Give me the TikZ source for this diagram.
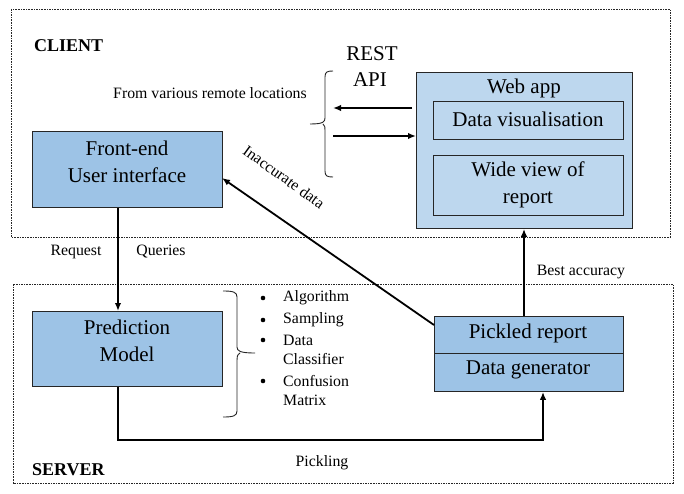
\documentclass[tikz,border=0pt]{standalone}
\usepackage{fontspec}
\setmainfont{Liberation Serif}
\usetikzlibrary{arrows.meta}
\definecolor{boxblue}{HTML}{9DC3E6}
\definecolor{lightblue}{HTML}{BDD7EE}
\begin{document}
\begin{tikzpicture}[x=1pt,y=-1pt,
  zone/.style={draw=black!85,line width=0.7pt,dash pattern=on 1.6pt off 1pt},
  bluebox/.style={draw=black!85,line width=0.9pt,fill=boxblue},
  webbox/.style={draw=black!85,line width=0.9pt,fill=lightblue},
  bigtxt/.style={font=\fontsize{21}{27}\selectfont,align=center,inner sep=0pt},
  smalltxt/.style={font=\fontsize{15.8}{19}\selectfont,inner sep=0pt},
  headtxt/.style={font=\fontsize{18}{22}\selectfont\bfseries,inner sep=0pt,anchor=west},
  conn/.style={line width=1.8pt,line cap=butt},
  arr/.style={conn,-{Latex[length=8pt,width=6.5pt]}},
  bracestyle/.style={line width=0.9pt,black!85}
]
\useasboundingbox (0,0) rectangle (684,494);
\fill[white] (0,0) rectangle (684,494);

% zones
\draw[zone] (11,9) rectangle (670,237);
\draw[zone] (13,284) rectangle (673,483);
\node[headtxt] (client) at (34,46) {CLIENT};
\node[headtxt] (server) at (32,470) {SERVER};

% front-end
\node[bluebox,minimum width=190pt,minimum height=76pt,inner sep=0pt,anchor=north west] (fe) at (32,131) {};
\node[bigtxt] (fetxt) at (127,162) {Front-end\\User interface};

% prediction model
\node[bluebox,minimum width=190pt,minimum height=75pt,inner sep=0pt,anchor=north west] (pm) at (32,311) {};
\node[bigtxt] (pmtxt) at (127,341) {Prediction\\Model};

% web app
\node[webbox,minimum width=216pt,minimum height=156pt,inner sep=0pt,anchor=north west] (web) at (416,72) {};
\node[bigtxt] (webtxt) at (524,88) {Web app};
\node[webbox,minimum width=190pt,minimum height=38pt,inner sep=0pt,anchor=north west] (dv) at (433,101) {};
\node[bigtxt] (dvtxt) at (528,119) {Data visualisation};
\node[webbox,minimum width=190pt,minimum height=60pt,inner sep=0pt,anchor=north west] (wv) at (433,155) {};
\node[bigtxt] (wvtxt) at (528,185) {Wide view of\\report};

% pickled report / data generator
\node[bluebox,minimum width=189pt,minimum height=75pt,inner sep=0pt,anchor=north west] (pk) at (434,316) {};
\draw[black!85,line width=0.9pt] (pk.west |- 0,353) -- (pk.east |- 0,353);
\node[bigtxt] (pktxt) at (528,333) {Pickled report};
\node[bigtxt] (dgtxt) at (528,370) {Data generator};

% REST API
\node[bigtxt] (rest) at (372,54) {REST};
\node[bigtxt] (api) at (370,80) {API};
\node[smalltxt] (remote) at (210,93) {From various remote locations};

% left brace
\draw[bracestyle] (333,71) .. controls (327,71) and (325,72) .. (325,77) -- (325,118)
  .. controls (325,122) and (323,124) .. (310,124)
  (323,124) .. controls (325,126) and (325,127) .. (325,130) -- (325,171)
  .. controls (325,176) and (327,177) .. (333,177);

% right brace
\draw[bracestyle] (223,291) .. controls (233,291) and (237,292) .. (237,297) -- (237,347)
  .. controls (237,351) and (240,353) .. (255,353)
  (240,353) .. controls (237,355) and (237,357) .. (237,360) -- (237,411)
  .. controls (237,416) and (233,417) .. (223,417);

% bullets
\foreach \yy/\nm in {298/b1,320/b2,340/b3,381/b4}{
  \fill (263,\yy) circle (2.3pt);
}
\node[smalltxt,anchor=west] (l1) at (283,298) {Algorithm};
\node[smalltxt,anchor=west] (l2) at (283,320) {Sampling};
\node[smalltxt,anchor=west] (l3) at (283,340) {Data};
\node[smalltxt,anchor=west] (l4) at (283,359) {Classifier};
\node[smalltxt,anchor=west] (l5) at (283,381) {Confusion};
\node[smalltxt,anchor=west] (l6) at (283,400) {Matrix};

% labels
\node[smalltxt] (req) at (76,252) {Request};
\node[smalltxt] (qry) at (161,252) {Queries};
\node[smalltxt] (best) at (581,272) {Best accuracy};
\node[smalltxt] (pick) at (322,463) {Pickling};
\node[smalltxt,rotate=-36] (inacc) at (284,177) {Inaccurate data};

% connectors
\coordinate (feb) at (118,207);
\draw[arr] (fe.south -| feb) -- (pm.north -| feb);
\coordinate (pmb) at (118,386);
\coordinate (dgb) at (543,391);
\draw[arr] (pm.south -| pmb) -- (118,440) -- (543,440) -- (pk.south -| dgb);
\coordinate (pkt) at (524,316);
\draw[arr] (pk.north -| pkt) -- (web.south -| pkt);
\coordinate (pkl) at (434,325);
\coordinate (fer) at (222,178);
\draw[arr] (pkl) -- (fer);
\coordinate (lt) at (333,108);
\coordinate (rt) at (333,136);
\draw[arr] (web.west |- lt) ++(-4,0) -- (lt);
\draw[arr] (rt) -- (web.west |- rt);
\end{tikzpicture}
\end{document}
